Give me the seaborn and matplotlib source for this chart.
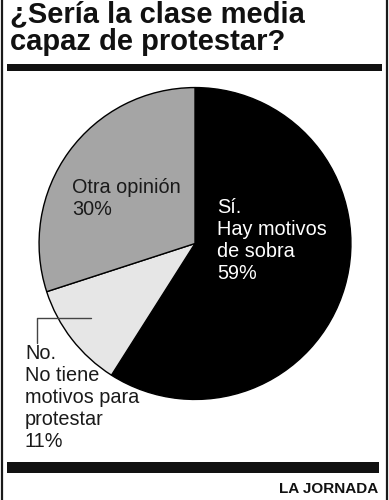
import matplotlib
matplotlib.use("Agg")
import matplotlib.pyplot as plt
import seaborn as sns
from matplotlib.patches import Rectangle
from matplotlib.lines import Line2D

# data
labels = ["Sí.\nHay motivos\nde sobra\n59%", "No.\nNo tiene\nmotivos para\nprotestar\n11%",
          "Otra opinión\n30%"]
values = [59, 11, 30]
colors = ["#000000", "#e6e6e6", "#a5a5a5"]
title = "¿Sería la clase media\ncapaz de protestar?"
source = "LA JORNADA"

sns.set_theme(style="white")
plt.rcParams['font.family'] = ['Liberation Sans', 'DejaVu Sans']

W, H = 389, 500
fig = plt.figure(figsize=(W / 100, H / 100), dpi=100)
fig.patch.set_facecolor("white")


def px(x, y):
    # pixel coords (top-left origin) -> figure fraction
    return x / W, 1 - y / H


# pie axes: center (195, 243.5), radius 157.5 px
cx, cy, r = 195, 243.5, 157.5
left, bottom = px(cx - r, cy + r)
ax = fig.add_axes([left, bottom, 2 * r / W, 2 * r / H])
ax.pie(values, colors=colors, startangle=90, counterclock=False, radius=1,
       wedgeprops=dict(edgecolor="black", linewidth=1.0))
ax.set_xlim(-1.01, 1.01)
ax.set_ylim(-1.01, 1.01)
ax.set_aspect("equal")
ax.axis("off")

# frame lines left/right
fig.add_artist(Line2D([2 / W, 2 / W], [0, 1], color="#1a1a1a", lw=1.6))
fig.add_artist(Line2D([387 / W, 387 / W], [0, 1], color="#1a1a1a", lw=1.6))

# top and bottom bars
x0, y0 = px(7, 71)
fig.add_artist(Rectangle((x0, y0), 375 / W, 7 / H, color="#111111", lw=0))
x0, y0 = px(7, 473)
fig.add_artist(Rectangle((x0, y0), 372 / W, 11 / H, color="#111111", lw=0))

# title
fig.text(*px(10, 0), title, fontsize=21, fontweight="bold", va="top", ha="left",
         linespacing=1.0, color="#111111")

# slice labels
fig.text(*px(217, 198), labels[0], fontsize=14.3, color="white", va="top", ha="left")
fig.text(*px(72, 178), labels[2], fontsize=14.3, color="#1a1a1a", va="top", ha="left")
fig.text(*px(25, 344), labels[1], fontsize=14.3, color="#1a1a1a", va="top", ha="left")

# leader line for the small slice
lx = [px(91, 318)[0], px(37, 318)[0], px(37, 343)[0]]
ly = [px(91, 318)[1], px(37, 318)[1], px(37, 343)[1]]
fig.add_artist(Line2D(lx, ly, color="#444444", lw=1.0))

# source
fig.text(*px(378, 493), source, fontsize=11, fontweight="bold", ha="right",
         va="baseline", color="#111111")

fig.savefig("out.png", dpi=100)
